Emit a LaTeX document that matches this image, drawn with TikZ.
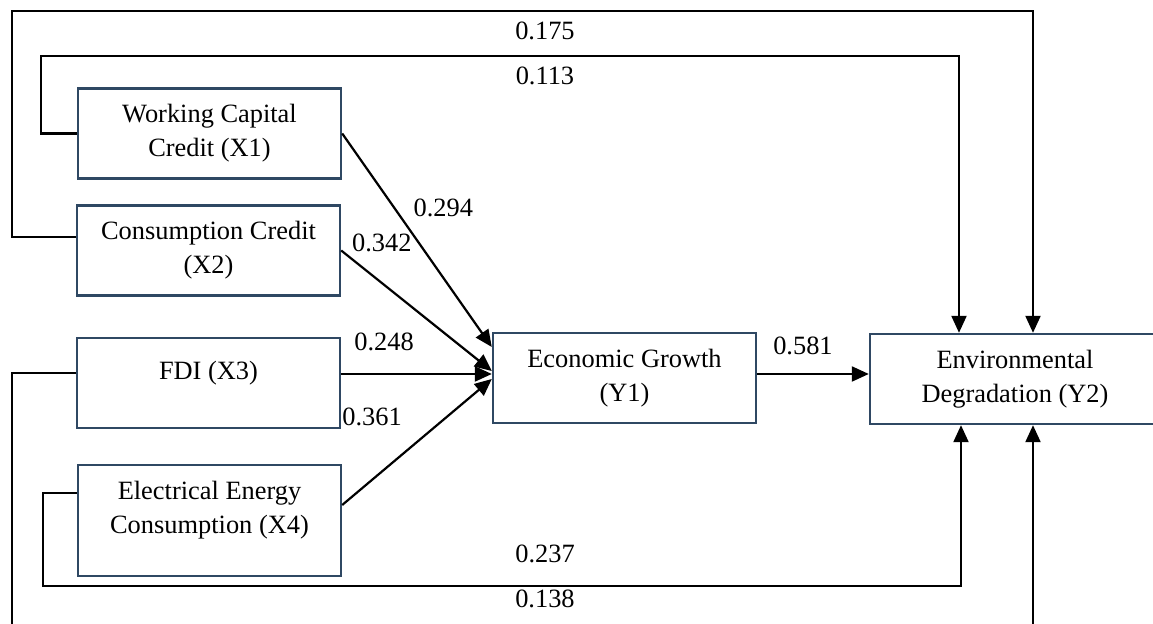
\documentclass[tikz,border=0pt]{standalone}
\usepackage{fontspec}
\setmainfont{Liberation Serif}
\usetikzlibrary{arrows.meta}
\definecolor{boxblue}{RGB}{47,72,99}
\begin{document}
\begin{tikzpicture}[x=0.5pt, y=-0.5pt,
	var/.style={draw=boxblue, line width=1.2pt, inner sep=0pt, align=center, minimum width=131.5pt, minimum height=45pt, font=\fontsize{13.2pt}{17pt}\selectfont},
	coef/.style={inner sep=0pt, font=\fontsize{13.2pt}{17pt}\selectfont},
	path/.style={line width=1.1pt, -{Triangle[length=8.5pt,width=7.5pt]}}]
	\clip (0,0) rectangle (1153,624);
	\node[var] (x1) at (209.5,133.5) {Working Capital\\Credit (X1)};
	\node[var] (x2) at (208.5,250.5) {Consumption Credit\\(X2)};
	\node[var] (x3) at (208.5,383) {FDI (X3)\rule[-13pt]{0pt}{0pt}};
	\node[var, minimum height=55.5pt] (x4) at (209.5,520.5) {Electrical Energy\\Consumption (X4)\rule[-13pt]{0pt}{0pt}};
	\node[var] (y1) at (624.5,378) {Economic Growth\\(Y1)};
	\node[var, minimum width=145pt] (y2) at (1015,379) {Environmental\\Degradation (Y2)};
	% direct paths to Y1
	\draw[path] (x1.east) -- node[coef, pos=0.35, right=9pt] {0.294} (y1.west |- 0,347);
	\draw[path] (x2.east) -- node[coef, pos=0.27, above=15pt] {0.342} (y1.west |- 0,371);
	\draw[path] (x3.east |- 0,374) -- node[coef, pos=0.285, above=11pt] {0.248} (y1.west |- 0,374);
	\draw[path] (x4.east |- 0,505) -- node[coef, pos=0.2, above=26.5pt] {0.361} (y1.west |- 0,379);
	\draw[path] (y1.east |- 0,374) -- node[coef, pos=0.41, above=9pt] {0.581} (y2.west |- 0,374);
	% direct paths to Y2
	\draw[path] (x2.west |- 0,237) -| (12,11) -- node[coef, pos=0.522, below=5pt] {0.175} (1033,11) -- (y2.north -| 1033,0);
	\draw[path] (x1.west) -| (41,56) -- node[coef, pos=0.549, below=5pt] {0.113} (959,56) -- (y2.north -| 959,0);
	\draw[path] (x4.west |- 0,493) -| (43,586) -- node[coef, pos=0.547, above=11pt] {0.237} (961,586) -- (y2.south -| 961,0);
	\draw[path] (x3.west |- 0,373) -| (12,640) -- node[coef, pos=0.522, above=15.5pt] {0.138} (1033,640) -- (y2.south -| 1033,0);
\end{tikzpicture}
\end{document}
